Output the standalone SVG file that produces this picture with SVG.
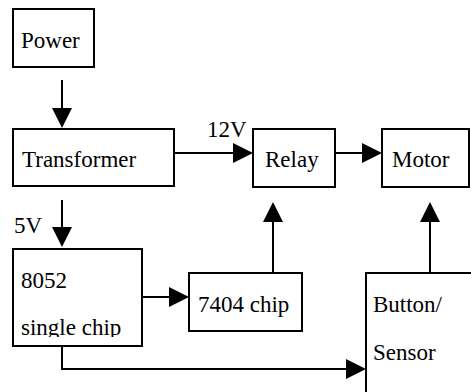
<svg xmlns="http://www.w3.org/2000/svg" width="471" height="392" viewBox="0 0 471 392">
<style>
.box{fill:#fff;stroke:#000;stroke-width:2}
.t{font-size:23px;fill:#000}
.c{fill:none;stroke:#000;stroke-width:2}
</style>
<defs>
<marker id="ah" markerUnits="userSpaceOnUse" markerWidth="20" markerHeight="20" refX="16" refY="10" orient="auto" viewBox="0 0 20 20">
<path d="M0,0 L20,10 L0,20 z" fill="#000"/>
</marker>
<clipPath id="clip8052"><rect x="13" y="249" width="129" height="88"/></clipPath>
</defs>
<rect width="471" height="392" fill="#fff"/>
<g font-family="Tinos, 'Liberation Serif', 'Times New Roman', Times, 'DejaVu Serif', serif">
<g id="power"><rect class="box" x="13" y="9" width="81" height="58"/><text class="t" x="21" y="48">Power</text></g>
<g id="transformer"><rect class="box" x="13" y="129" width="161" height="57"/><text class="t" x="22" y="167">Transformer</text></g>
<g id="relay"><rect class="box" x="253" y="129" width="82" height="58"/><text class="t" x="265" y="167">Relay</text></g>
<g id="motor"><rect class="box" x="382" y="129" width="87" height="58"/><text class="t" x="392" y="167">Motor</text></g>
<g id="chip8052"><rect class="box" x="13" y="249" width="129" height="97"/><g clip-path="url(#clip8052)"><text class="t" x="21" y="288">8052</text><text class="t" x="21" y="335">single chip</text></g></g>
<g id="chip7404"><rect class="box" x="189" y="273" width="113" height="58"/><text class="t" x="198" y="312">7404 chip</text></g>
<g id="sensor"><rect class="box" x="366" y="273" width="110" height="125"/><text class="t" x="373" y="312">Button/</text><text class="t" x="373" y="360">Sensor</text></g>
<g id="connectors">
<path class="c" d="M62,80 V124" marker-end="url(#ah)"/>
<path class="c" d="M174,153 H249" marker-end="url(#ah)"/>
<text class="t" x="207" y="137">12V</text>
<path class="c" d="M335,153 H378" marker-end="url(#ah)"/>
<path class="c" d="M62,200 V243" marker-end="url(#ah)"/>
<text class="t" x="14" y="233">5V</text>
<path class="c" d="M142,297 H185" marker-end="url(#ah)"/>
<path class="c" d="M273,273 V206" marker-end="url(#ah)"/>
<path class="c" d="M430,273 V206" marker-end="url(#ah)"/>
<path class="c" d="M62,346 V369 H362" marker-end="url(#ah)"/>
</g>
</g>
</svg>
